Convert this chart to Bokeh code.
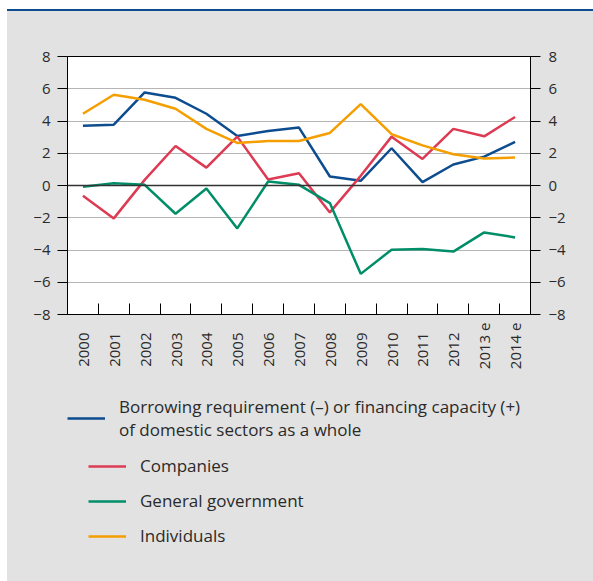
import math
from bokeh.plotting import figure
from bokeh.models import (Range1d, FixedTicker, LinearAxis, Span, Legend, LegendItem,
                          CustomJSTickFormatter, Div)
from bokeh.layouts import column
from bokeh.embed import file_html
from bokeh.resources import INLINE

years = ["2000", "2001", "2002", "2003", "2004", "2005", "2006", "2007",
         "2008", "2009", "2010", "2011", "2012", "2013 e", "2014 e"]
domestic = [3.71, 3.77, 5.77, 5.44, 4.45, 3.07, 3.38, 3.59, 0.56, 0.29, 2.31, 0.21, 1.30, 1.79, 2.70]
companies = [-0.64, -2.04, 0.35, 2.45, 1.11, 3.03, 0.37, 0.76, -1.67, 0.60, 3.03, 1.65, 3.51, 3.05, 4.25]
government = [-0.08, 0.14, 0.04, -1.75, -0.19, -2.66, 0.25, 0.04, -1.09, -5.48, -3.98, -3.94, -4.10, -2.91, -3.22]
individuals = [4.45, 5.63, 5.32, 4.76, 3.51, 2.64, 2.76, 2.76, 3.26, 5.05, 3.18, 2.49, 1.94, 1.67, 1.73]
y_ticks = [-8, -6, -4, -2, 0, 2, 4, 6, 8]

label_dom = "Borrowing requirement (\u2013) or financing capacity (+)\nof domestic sectors as a whole"
labels_other = ["Companies", "General government", "Individuals"]

BLUE = "#0d4c8f"
RED = "#dd3a53"
GREEN = "#008e69"
ORANGE = "#f59e00"
BG = "#e2e2e2"
FONT = "Open Sans"
TXT = "#2a2a2a"
colors = [BLUE, RED, GREEN, ORANGE]

n = len(years)
xs = [i + 0.5 for i in range(n)]

p = figure(width=586, height=380, output_backend="svg", toolbar_location=None,
           x_range=Range1d(0, n), y_range=Range1d(-8, 8),
           min_border_left=60, min_border_right=63, min_border_top=45, min_border_bottom=77,
           border_fill_color=BG, background_fill_color="white", margin=0)
p.outline_line_color = "black"
p.outline_line_width = 1

yticker = FixedTicker(ticks=y_ticks)
minus_fmt = CustomJSTickFormatter(code="return tick < 0 ? '\\u2212' + Math.abs(tick) : String(tick)")

# x axis: labels at category centres, short ticks at category boundaries
p.xaxis.ticker = FixedTicker(ticks=xs, minor_ticks=list(range(1, n)))
p.xaxis.formatter = CustomJSTickFormatter(
    args=dict(labels=years),
    code="""const i = Math.floor(tick);
const s = labels[i];
if (s === undefined) return '';
return s.length < 6 ? s + '\\u2002\\u2009' : s;""")
p.xaxis.major_label_orientation = math.pi / 2
p.xaxis.major_tick_in = 0
p.xaxis.major_tick_out = 0
p.xaxis.minor_tick_in = 11
p.xaxis.minor_tick_out = 0
p.xaxis.minor_tick_line_color = "black"
p.xaxis.axis_line_color = "black"
p.xaxis.major_label_standoff = 8
p.xaxis.major_label_text_font = FONT
p.xaxis.major_label_text_font_size = "15px"
p.xaxis.major_label_text_color = TXT

# left axis
p.yaxis.ticker = yticker
p.yaxis.formatter = minus_fmt
p.yaxis.major_tick_in = 0
p.yaxis.major_tick_out = 10
p.yaxis.minor_tick_line_color = None
p.yaxis.major_tick_line_color = "black"
p.yaxis.axis_line_color = "black"
p.yaxis.major_label_standoff = 7
p.yaxis.major_label_text_font = FONT
p.yaxis.major_label_text_font_size = "15px"
p.yaxis.major_label_text_color = TXT

# right axis
ra = LinearAxis(ticker=yticker, formatter=minus_fmt)
ra.major_tick_in = 0
ra.major_tick_out = 10
ra.minor_tick_line_color = None
ra.major_tick_line_color = "black"
ra.axis_line_color = "black"
ra.major_label_standoff = 8
ra.major_label_text_font = FONT
ra.major_label_text_font_size = "15px"
ra.major_label_text_color = TXT
p.add_layout(ra, "right")

p.xgrid.grid_line_color = None
p.ygrid.ticker = yticker
p.ygrid.grid_line_color = "#b5b5b5"
p.ygrid.grid_line_width = 1

p.add_layout(Span(location=0, dimension="width", line_color="#333333", line_width=1.5))

for series, c in zip([domestic, companies, government, individuals], colors):
    p.line(xs, series, line_color=c, line_width=2.5)

# legend figure (its frame's left edge is aligned with the chart's frame)
q = figure(width=586, height=190, output_backend="svg", toolbar_location=None,
           x_range=Range1d(0, 1), y_range=Range1d(0, 1),
           x_axis_type=None, y_axis_type=None,
           min_border=0, min_border_left=60, border_fill_color=None,
           background_fill_color=None, margin=0)
q.outline_line_color = None
q.grid.visible = False
nan = float("nan")
rends = [q.line([nan], [nan], line_color=c, line_width=2.5) for c in colors]


def style_legend(lg):
    lg.background_fill_alpha = 0
    lg.border_line_alpha = 0
    lg.padding = 0
    lg.margin = 0
    lg.glyph_width = 38
    lg.glyph_height = 20
    lg.label_height = 20
    lg.label_standoff = 14
    lg.label_text_font = FONT
    lg.label_text_font_size = "17px"
    lg.label_text_color = TXT
    lg.label_text_line_height = 0.87


leg1 = Legend(items=[LegendItem(label=label_dom, renderers=[rends[0]])], location=(0, 140))
style_legend(leg1)
leg2 = Legend(items=[LegendItem(label=l, renderers=[r]) for l, r in zip(labels_other, rends[1:])],
              location=(21, 34))
style_legend(leg2)
leg2.spacing = 12
q.add_layout(leg1, "center")
q.add_layout(leg2, "center")

bar = Div(text="", width=586, height=2, margin=0, styles={"background-color": BLUE})
layout = column(bar, p, q, margin=(9, 0, 0, 7), spacing=0,
                styles={"background-color": BG})

open("out.html", "w").write(file_html(layout, INLINE))
